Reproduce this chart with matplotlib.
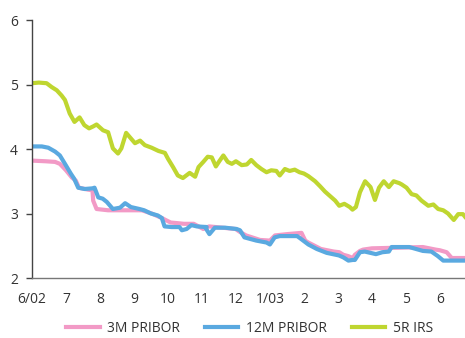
import numpy as np
import matplotlib.pyplot as plt

# months since June 2002 (0 = 6/02), sampled from the daily series
t_irs = [0.0, 0.2, 0.43, 0.58, 0.73, 0.87, 0.97, 1.11, 1.25, 1.4, 1.54, 1.68, 1.8,
         1.9, 2.09, 2.24, 2.38, 2.53, 2.63, 2.77, 3.03, 3.18, 3.32, 3.52, 3.72, 3.91,
         4.0, 4.15, 4.29, 4.44, 4.64, 4.8, 4.9, 5.04, 5.17, 5.29, 5.41, 5.51, 5.63, 5.76,
         5.88, 6.0, 6.17, 6.32, 6.45, 6.6, 6.75, 6.9, 7.04, 7.19, 7.29, 7.44, 7.58, 7.73,
         7.87, 8.0, 8.13, 8.33, 8.48, 8.62, 8.77, 8.92, 9.04, 9.19, 9.35, 9.43, 9.53,
         9.65, 9.8, 9.96, 10.09, 10.21, 10.35, 10.5, 10.64, 10.81, 10.88, 11.02, 11.17,
         11.31, 11.46, 11.66, 11.81, 11.95, 12.1, 12.24, 12.41, 12.54, 12.68, 12.74]
irs_5y = [5.02, 5.03, 5.02, 4.96, 4.91, 4.83, 4.76, 4.55, 4.42, 4.49, 4.37, 4.32, 4.35,
          4.38, 4.29, 4.26, 4.01, 3.93, 4.01, 4.25, 4.09, 4.13, 4.06, 4.02, 3.97, 3.94,
          3.85, 3.72, 3.59, 3.55, 3.63, 3.57, 3.72, 3.80, 3.88, 3.87, 3.73, 3.81, 3.90,
          3.80, 3.77, 3.81, 3.75, 3.76, 3.83, 3.75, 3.69, 3.64, 3.67, 3.66, 3.59, 3.69,
          3.66, 3.68, 3.64, 3.62, 3.58, 3.50, 3.42, 3.34, 3.27, 3.20, 3.12, 3.15, 3.10,
          3.06, 3.10, 3.33, 3.50, 3.41, 3.21, 3.40, 3.50, 3.41, 3.50, 3.47, 3.45, 3.40,
          3.30, 3.28, 3.20, 3.12, 3.14, 3.07, 3.05, 3.00, 2.90, 2.99, 2.99, 2.95]

t_12m = [0.0, 0.29, 0.48, 0.68, 0.82, 0.97, 1.14, 1.24, 1.36, 1.55, 1.78, 1.84, 1.95,
         2.08, 2.2, 2.38, 2.59, 2.74, 2.91, 3.16, 3.3, 3.5, 3.7, 3.82, 3.9, 4.11, 4.34,
         4.41, 4.55, 4.69, 4.85, 5.14, 5.09, 5.22, 5.38, 5.68, 6.02, 6.12, 6.25, 6.6, 6.9,
         7.0, 7.14, 7.29, 7.57, 7.8, 7.88, 8.13, 8.38, 8.67, 8.85, 9.03, 9.16, 9.31, 9.44,
         9.5, 9.65, 9.65, 9.79, 10.12, 10.31, 10.5, 10.58, 11.1, 11.5, 11.75, 11.94,
         12.1, 12.35, 12.74]
pribor_12m = [4.04, 4.04, 4.02, 3.96, 3.90, 3.77, 3.62, 3.54, 3.40, 3.38, 3.39, 3.40,
              3.25, 3.23, 3.18, 3.07, 3.09, 3.16, 3.10, 3.07, 3.05, 3.00, 2.97, 2.93, 2.80,
              2.79, 2.79, 2.74, 2.76, 2.82, 2.80, 2.79, 2.79, 2.68, 2.78, 2.78, 2.76, 2.74,
              2.63, 2.58, 2.55, 2.52, 2.63, 2.65, 2.65, 2.65, 2.62, 2.52, 2.45, 2.39, 2.37,
              2.35, 2.32, 2.27, 2.28, 2.28, 2.40, 2.40, 2.41, 2.37, 2.40, 2.41, 2.48, 2.48,
              2.42, 2.41, 2.34, 2.27, 2.27, 2.27]

t_3m = [0.0, 0.4, 0.68, 0.82, 1.0, 1.17, 1.29, 1.38, 1.65, 1.78, 1.8, 1.9, 2.24, 2.74,
        3.23, 3.52, 3.82, 3.93, 4.08, 4.29, 4.47, 4.76, 5.04, 5.21, 5.99, 6.1, 6.3, 6.71,
        7.0, 7.15, 7.5, 7.93, 8.04, 8.13, 8.5, 8.88, 9.04, 9.16, 9.3, 9.44, 9.5, 9.65,
        9.74, 10.0, 11.5, 11.88, 12.0, 12.2, 12.35, 12.74]
pribor_3m = [3.82, 3.81, 3.80, 3.77, 3.67, 3.56, 3.51, 3.40, 3.37, 3.36, 3.20, 3.07,
             3.05, 3.05, 3.05, 3.00, 2.93, 2.90, 2.86, 2.85, 2.84, 2.84, 2.76, 2.80,
             2.76, 2.72, 2.66, 2.59, 2.58, 2.66, 2.68, 2.70, 2.58, 2.55, 2.45, 2.41,
             2.40, 2.36, 2.34, 2.31, 2.36, 2.42, 2.44, 2.46, 2.48, 2.44, 2.43, 2.40,
             2.31, 2.31]

month_labels = ["6/02", "7", "8", "9", "10", "11", "12", "1/03", "2", "3", "4", "5", "6"]
y_ticks = [2, 3, 4, 5, 6]

c_3m = "#f29ac6"
c_12m = "#5aa9e0"
c_irs = "#bfd630"
txt = "#333333"

plt.rcParams["font.family"] = ["Open Sans", "DejaVu Sans"]

fig = plt.figure(figsize=(4.65, 3.38), dpi=100)
ax = fig.add_axes([0.0688, 0.1775, 0.9312, 0.7633])

ax.plot(t_3m, pribor_3m, color=c_3m, lw=3.0, label="3M PRIBOR", solid_joinstyle="round")
ax.plot(t_12m, pribor_12m, color=c_12m, lw=3.0, label="12M PRIBOR", solid_joinstyle="round")
ax.plot(t_irs, irs_5y, color=c_irs, lw=3.0, label="5R IRS", solid_joinstyle="round")

ax.set_xlim(0, 12.74)
ax.set_ylim(2, 6)
ax.set_yticks(y_ticks)
ax.set_xticks(range(len(month_labels)))
ax.set_xticklabels(month_labels)

for side in ("top", "right"):
    ax.spines[side].set_visible(False)
ax.spines["left"].set_color("#444444")
ax.spines["bottom"].set_color("#777777")
ax.spines["left"].set_linewidth(1.0)
ax.spines["bottom"].set_linewidth(1.0)

ax.tick_params(axis="y", direction="out", length=4, width=1, color="#444444",
               labelsize=10, labelcolor=txt, pad=6)
ax.tick_params(axis="x", length=0, labelsize=10, labelcolor=txt, pad=10)

fig.legend(loc="lower center", bbox_to_anchor=(0.537, -0.032), ncol=3, frameon=False,
           fontsize=10, handlelength=2.4, columnspacing=1.8, handletextpad=0.55,
           labelcolor=txt)

fig.savefig("out.png", dpi=100)
